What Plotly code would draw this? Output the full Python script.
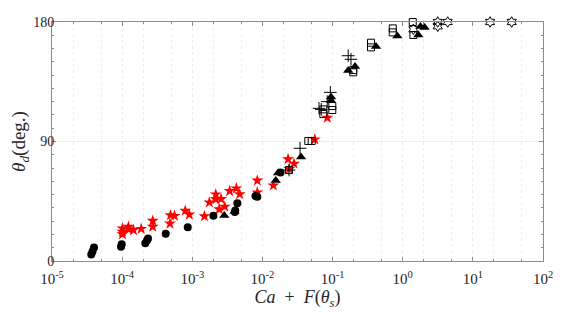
import plotly.graph_objects as go

# Red filled stars
star_x = [1.01e-4, 1.01e-4, 1.01e-4, 1.23e-4, 1.23e-4, 1.45e-4, 1.87e-4, 2.73e-4, 2.73e-4,
          4.81e-4, 4.89e-4, 5.58e-4, 7.93e-4, 9.07e-4, 1.49e-3, 1.75e-3, 2.16e-3, 2.16e-3,
          2.57e-3, 2.42e-3, 2.90e-3, 3.41e-3, 4.24e-3, 4.74e-3, 8.45e-3, 8.45e-3, 0.0143,
          0.0232, 0.0242, 0.0282, 0.0558, 0.0841]
star_y = [24.6, 22.1, 20.1, 25.8, 23.9, 23.3, 24.2, 30.3, 25.8,
          28.2, 34.5, 34.0, 37.9, 35.0, 33.7, 44.1, 50.2, 46.5,
          46.7, 39.0, 40.9, 52.7, 54.7, 50.3, 60.6, 51.7, 56.9,
          76.7, 69.3, 73.3, 91.6, 107.9]

# Black filled circles
circ_x = [3.63e-5, 3.78e-5, 3.97e-5, 9.64e-5, 9.86e-5, 2.14e-4, 2.26e-4, 2.34e-4, 4.18e-4,
          8.61e-4, 2.0e-3, 4.03e-3, 4.1e-3, 4.39e-3, 7.96e-3, 8.45e-3, 0.0181]
circ_y = [4.9, 7.2, 10.2, 10.8, 12.6, 13.3, 15.4, 16.9, 20.6,
          25.4, 34.1, 36.9, 38.0, 43.4, 48.9, 48.3, 66.6]

# Black filled triangles
tri_x = [2.86e-3, 4.0e-3, 0.0155, 0.0167, 0.0355, 0.0951, 0.0951, 0.167, 0.209,
         0.416, 0.838, 1.67, 1.79, 2.05]
tri_y = [34.3, 37.3, 60.6, 66.3, 78.3, 120.9, 123.5, 143.4, 146.5,
         161.5, 169.4, 170.2, 176.6, 175.8]

# Open squares
sq_x = [0.0239, 0.0451, 0.0504, 0.0738, 0.0738, 0.0991, 0.0991, 0.197, 0.197,
        0.353, 0.353, 0.721, 0.721, 1.39, 1.42]
sq_y = [68.5, 90.4, 90.4, 114.2, 110.7, 116.7, 113.7, 143.8, 142.1,
        164.4, 160.9, 175.2, 172.2, 180.0, 170.2]

# Crosses
cr_x = [0.0239, 0.0344, 0.064, 0.069, 0.084, 0.093, 0.167, 0.183]
cr_y = [68.5, 84.9, 115.0, 114.2, 120.0, 127.0, 154.6, 151.9]

# Open hexagrams
hx_x = [1.42, 3.16, 3.16, 4.38, 17.6, 35.8]
hx_y = [174.5, 180.0, 176.8, 180.0, 180.0, 180.0]

# Tick labels
x_tickvals = [1e-5, 1e-4, 1e-3, 1e-2, 1e-1, 1e0, 1e1, 1e2]
x_ticktext = ["10<sup>-5</sup>", "10<sup>-4</sup>", "10<sup>-3</sup>", "10<sup>-2</sup>",
              "10<sup>-1</sup>", "10<sup>0</sup>", "10<sup>1</sup>", "10<sup>2</sup>"]
y_tickvals = [0, 90, 180]
y_ticktext = ["0", "90", "180"]

fig = go.Figure()

fig.add_trace(go.Scatter(x=star_x, y=star_y, mode="markers", cliponaxis=False,
                         marker=dict(symbol="star", size=9, color="red", line=dict(width=0))))
fig.add_trace(go.Scatter(x=circ_x, y=circ_y, mode="markers", cliponaxis=False,
                         marker=dict(symbol="circle", size=8, color="black", line=dict(width=0))))
fig.add_trace(go.Scatter(x=tri_x, y=tri_y, mode="markers", cliponaxis=False,
                         marker=dict(symbol="triangle-up", size=9, color="black", line=dict(width=0))))
fig.add_trace(go.Scatter(x=sq_x, y=sq_y, mode="markers", cliponaxis=False,
                         marker=dict(symbol="square-open", size=7, color="black", line=dict(width=1))))
fig.add_trace(go.Scatter(x=cr_x, y=cr_y, mode="markers", cliponaxis=False,
                         marker=dict(symbol="cross-thin-open", size=9, color="black", line=dict(width=1))))
fig.add_trace(go.Scatter(x=hx_x, y=hx_y, mode="markers", cliponaxis=False,
                         marker=dict(symbol="hexagram-open", size=8, color="black", line=dict(width=1))))

axis_col = "#8c8c8c"
fig.update_layout(
    width=560, height=305,
    margin=dict(l=44, r=25, t=14, b=52),
    paper_bgcolor="white", plot_bgcolor="white",
    showlegend=False,
    font=dict(family="Liberation Serif", size=14, color="#262626"),
)
fig.update_xaxes(
    type="log", range=[-5, 2], tickvals=x_tickvals, ticktext=x_ticktext, automargin=False,
    showline=True, linecolor=axis_col, linewidth=1, mirror="ticks",
    ticks="inside", ticklen=4, tickcolor=axis_col, ticklabelstandoff=4,
    showgrid=True, gridcolor="#ececec", griddash="dot", zeroline=False,
    minor=dict(ticks="inside", ticklen=2, tickcolor=axis_col, showgrid=True,
               gridcolor="#efefef", griddash="dot"),
    title=dict(text="<i>Ca</i>  +  <i>F</i>(<i>θ<sub>s</sub></i>)", font=dict(size=18), standoff=0),
    tickfont=dict(size=15),
)
fig.update_yaxes(
    range=[0, 180], tickvals=y_tickvals, ticktext=y_ticktext, automargin=False,
    showline=True, linecolor=axis_col, linewidth=1, mirror="ticks",
    ticks="inside", ticklen=4, tickcolor=axis_col, ticklabelstandoff=-6,
    showgrid=True, gridcolor="#ececec", zeroline=False,
    minor=dict(tick0=0, dtick=10, ticks="inside", ticklen=2, tickcolor=axis_col, showgrid=False),
    title=dict(text="<i>θ<sub>d</sub></i>(deg.)", font=dict(size=19), standoff=6),
    tickfont=dict(size=14),
)

fig.write_html("out.html")
